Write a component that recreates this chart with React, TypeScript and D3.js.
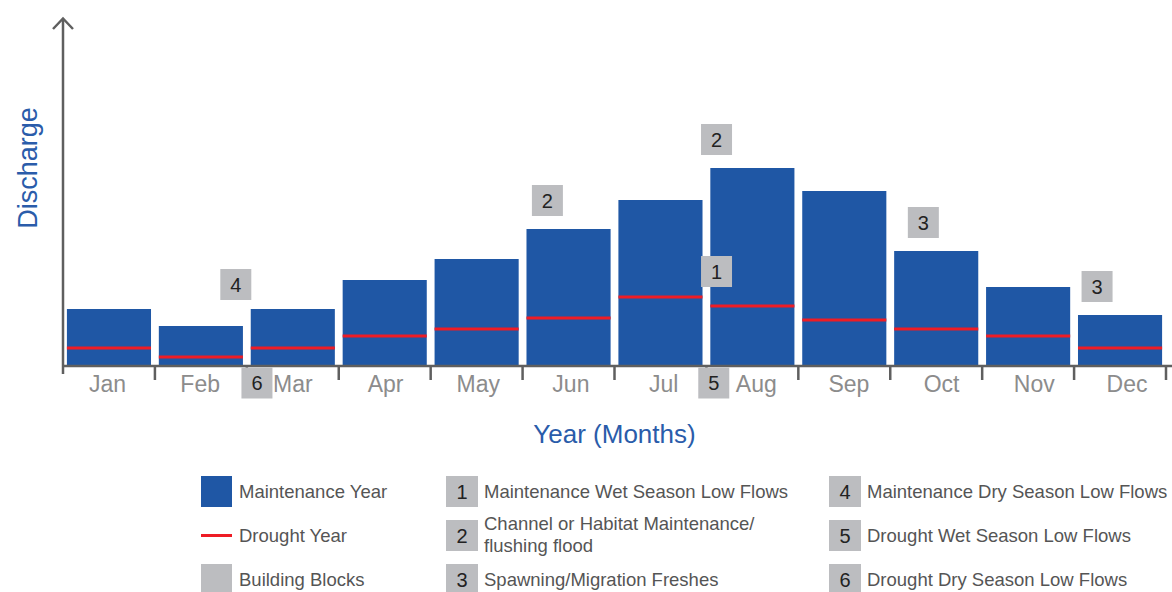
import React, { useEffect, useRef } from 'react';
import * as d3 from 'd3';

const months = ['Jan', 'Feb', 'Mar', 'Apr', 'May', 'Jun', 'Jul', 'Aug', 'Sep', 'Oct', 'Nov', 'Dec'];
const maintenanceYear = [57, 40, 57, 86, 107, 137, 166, 198, 175, 115, 79, 51];
const droughtYear = [18, 9, 18, 30, 37, 48, 69, 60, 46, 37, 30, 18];

// building block markers: label, position in months along the axis, level on the discharge scale
const blockLabels = ['4', '6', '2', '2', '1', '5', '3', '3'];
const blockMonthPos = [1.88, 2.11, 5.27, 7.11, 7.11, 7.08, 9.36, 11.25];
const blockLevels = [81.5, -17, 165.5, 226.5, 94.5, -17, 143.5, 79.5];

const legendSeries = ['Maintenance Year', 'Drought Year', 'Building Blocks'];
const legendBlockIds = ['1', '2', '3', '4', '5', '6'];
const legendBlockNames = [
    'Maintenance Wet Season Low Flows',
    'Channel or Habitat Maintenance/\nflushing flood',
    'Spawning/Migration Freshes',
    'Maintenance Dry Season Low Flows',
    'Drought Wet Season Low Flows',
    'Drought Dry Season Low Flows'
];

const BLUE = '#1f57a5';
const RED = '#ee1c25';
const BLOCK = '#bcbdc0';
const AXIS = '#5f5f5f';
const FONT = '"Liberation Sans", Arial, sans-serif';

export default function App() {
    const svgRef = useRef<SVGSVGElement>(null);

    useEffect(() => {
        document.body.style.margin = '0';
        const svg = d3.select(svgRef.current);
        svg.selectAll('*').remove();
        svg.attr('width', 1172).attr('height', 592).style('font-family', FONT);

        const x0 = 63;
        const x1 = 1166;
        const baseY = 366;

        const x = d3.scaleBand<string>()
            .domain(months)
            .range([x0, x1])
            .paddingInner(0.085)
            .paddingOuter(0.0425);
        const xPos = d3.scaleLinear().domain([0, 12]).range([x0, x1]);
        // month labels sit a bit wider apart than the bars
        const xLabel = d3.scaleLinear().domain([0, 11]).range([107.5, 1127]);
        const y = d3.scaleLinear().domain([0, 348]).range([baseY, 18]);

        const g = svg.append('g');

        // bars
        g.selectAll('rect.bar')
            .data(maintenanceYear)
            .enter()
            .append('rect')
            .attr('class', 'bar')
            .attr('x', (_d, i) => x(months[i])!)
            .attr('y', (d) => y(d))
            .attr('width', x.bandwidth())
            .attr('height', (d) => y(0) - y(d))
            .attr('fill', BLUE);

        // drought lines
        g.selectAll('line.drought')
            .data(droughtYear)
            .enter()
            .append('line')
            .attr('x1', (_d, i) => x(months[i])!)
            .attr('x2', (_d, i) => x(months[i])! + x.bandwidth())
            .attr('y1', (d) => y(d))
            .attr('y2', (d) => y(d))
            .attr('stroke', RED)
            .attr('stroke-width', 3);

        // axes
        g.append('line')
            .attr('x1', x0).attr('x2', 1172)
            .attr('y1', baseY).attr('y2', baseY)
            .attr('stroke', AXIS).attr('stroke-width', 2.5);
        g.append('line')
            .attr('x1', x0).attr('x2', x0)
            .attr('y1', 19).attr('y2', 374)
            .attr('stroke', AXIS).attr('stroke-width', 2.5);
        g.append('path')
            .attr('d', `M${x0 - 10},29L${x0},18.5L${x0 + 10},29`)
            .attr('fill', 'none')
            .attr('stroke', AXIS)
            .attr('stroke-width', 2.5);

        g.selectAll('line.tick')
            .data(d3.range(1, 13))
            .enter()
            .append('line')
            .attr('x1', (d) => xPos(d))
            .attr('x2', (d) => xPos(d))
            .attr('y1', baseY)
            .attr('y2', 380)
            .attr('stroke', AXIS)
            .attr('stroke-width', 2.5);

        g.selectAll('text.month')
            .data(months)
            .enter()
            .append('text')
            .attr('x', (_d, i) => xLabel(i))
            .attr('y', 392)
            .attr('text-anchor', 'middle')
            .style('font-size', '23px')
            .style('fill', '#8c8c8c')
            .text((d) => d);

        // axis titles
        g.append('text')
            .attr('x', (x0 + x1) / 2)
            .attr('y', 443)
            .attr('text-anchor', 'middle')
            .style('font-size', '26px')
            .style('fill', '#2a5caa')
            .text('Year (Months)');
        g.append('text')
            .attr('transform', 'translate(37,168) rotate(-90)')
            .attr('text-anchor', 'middle')
            .style('font-size', '27px')
            .style('fill', '#2a5caa')
            .text('Discharge');

        // building blocks
        const bs = 31;
        const blocks = g.selectAll('g.block')
            .data(blockLabels)
            .enter()
            .append('g')
            .attr('transform', (_d, i) => `translate(${xPos(blockMonthPos[i])},${y(blockLevels[i])})`);
        blocks.append('rect')
            .attr('x', -bs / 2).attr('y', -bs / 2)
            .attr('width', bs).attr('height', bs)
            .attr('fill', BLOCK);
        blocks.append('text')
            .attr('text-anchor', 'middle')
            .attr('dy', '0.36em')
            .style('font-size', '20px')
            .style('fill', '#222')
            .text((d) => d);

        // legend
        const rowY = [491.5, 535.5, 579.5];
        const lg = svg.append('g').style('font-size', '18.5px');
        legendSeries.forEach((name, i) => {
            if (i === 1) {
                lg.append('line')
                    .attr('x1', 201).attr('x2', 232)
                    .attr('y1', rowY[i]).attr('y2', rowY[i])
                    .attr('stroke', RED).attr('stroke-width', 3);
            } else {
                lg.append('rect')
                    .attr('x', 201).attr('y', rowY[i] - 15.5)
                    .attr('width', 31).attr('height', 31)
                    .attr('fill', i === 0 ? BLUE : BLOCK);
            }
            lg.append('text')
                .attr('x', 239).attr('y', rowY[i])
                .attr('dy', '0.35em')
                .style('fill', '#555')
                .text(name);
        });

        const colX = [446, 829];
        legendBlockIds.forEach((id, i) => {
            const cx = colX[Math.floor(i / 3)];
            const cy = rowY[i % 3];
            lg.append('rect')
                .attr('x', cx).attr('y', cy - 15.5)
                .attr('width', 32).attr('height', 31)
                .attr('fill', BLOCK);
            lg.append('text')
                .attr('x', cx + 16).attr('y', cy)
                .attr('dy', '0.36em')
                .attr('text-anchor', 'middle')
                .style('font-size', '20px')
                .style('fill', '#222')
                .text(id);
            const lines = legendBlockNames[i].split('\n');
            const t = lg.append('text')
                .attr('x', cx + 38)
                .attr('y', lines.length > 1 ? cy - 5.5 : cy)
                .style('fill', '#555');
            lines.forEach((ln, k) => {
                t.append('tspan')
                    .attr('x', cx + 38)
                    .attr('dy', k === 0 ? (lines.length > 1 ? 0 : '0.35em') : 22)
                    .text(ln);
            });
        });
    }, []);

    return <svg ref={svgRef} style={{ display: 'block' }} />;
}
